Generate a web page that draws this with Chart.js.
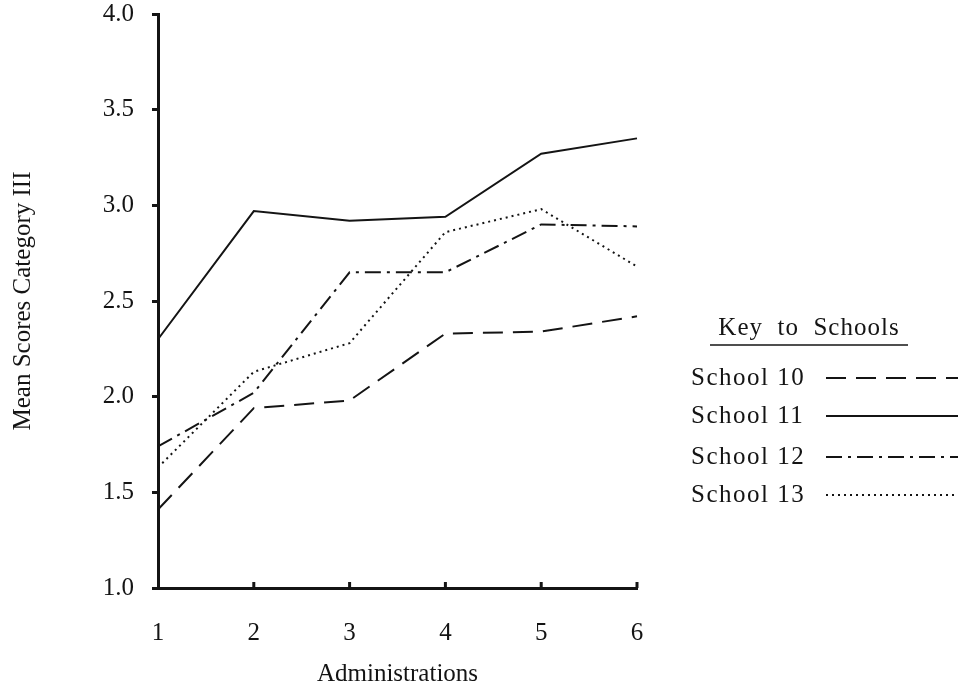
<!DOCTYPE html>
<html>
<head>
<meta charset="utf-8">
<script src="https://cdn.jsdelivr.net/npm/chart.js@4/dist/chart.umd.min.js"></script>
<style>
  html, body { margin: 0; padding: 0; background: #fff; overflow: hidden; }
  #wrap { width: 965px; height: 689px; overflow: hidden; }
  /* canvas is a little taller and pulled up so the plot top sits near the window edge */
  #chart { display: block; margin-top: -19px; }
</style>
</head>
<body>
<div id="wrap"><canvas id="chart" width="965" height="708"></canvas></div>
<script>
// administrations on the x axis
const administrations = ["1", "2", "3", "4", "5", "6"];

// mean scores, category III
const school10 = [1.41, 1.94, 1.98, 2.33, 2.34, 2.42];
const school11 = [2.30, 2.97, 2.92, 2.94, 3.27, 3.35];
const school12 = [1.74, 2.02, 2.65, 2.65, 2.90, 2.89];
const school13 = [1.63, 2.13, 2.28, 2.86, 2.98, 2.68];

const yTicks = [1.0, 1.5, 2.0, 2.5, 3.0, 3.5, 4.0];

const serif = "'Liberation Serif', 'DejaVu Serif', serif";
const ink = "#141414";
const shift = 19;

const keyPlugin = {
    id: "keyToSchools",
    afterDraw(chart) {
        const ctx = chart.ctx;
        const xs = chart.scales.x;
        const ys = chart.scales.y;
        ctx.save();

        // inward ticks on the x axis
        ctx.strokeStyle = ink;
        ctx.lineWidth = 3;
        administrations.forEach((a, i) => {
            if (i === 0) return;
            const px = xs.getPixelForValue(i);
            ctx.beginPath();
            ctx.moveTo(px, ys.bottom);
            ctx.lineTo(px, ys.bottom - 6);
            ctx.stroke();
        });

        // key
        ctx.fillStyle = ink;
        ctx.font = "25px " + serif;
        ctx.textBaseline = "middle";
        ctx.textAlign = "center";
        ctx.letterSpacing = "1px";
        ctx.fillText("Key  to  Schools", 809, 328 + shift);
        ctx.lineWidth = 1.5;
        ctx.beginPath();
        ctx.moveTo(710, 345 + shift);
        ctx.lineTo(908, 345 + shift);
        ctx.stroke();

        ctx.textAlign = "left";
        ctx.letterSpacing = "1.5px";
        const rows = [378, 416, 457, 495];
        chart.data.datasets.forEach((ds, i) => {
            const y = rows[i] + shift;
            ctx.fillText(ds.label, 691, y);
            ctx.save();
            ctx.strokeStyle = ds.borderColor;
            ctx.lineWidth = 2;
            ctx.setLineDash(ds.borderDash || []);
            ctx.beginPath();
            ctx.moveTo(826, y);
            ctx.lineTo(958, y);
            ctx.stroke();
            ctx.restore();
        });

        ctx.restore();
    }
};

function lineSet(label, data, dash) {
    return {
        label: label,
        data: data,
        borderColor: ink,
        borderWidth: 2,
        borderDash: dash,
        pointRadius: 0,
        tension: 0,
        fill: false,
    };
}

new Chart(document.getElementById("chart"), {
    type: "line",
    data: {
        labels: administrations,
        datasets: [
            lineSet("School 10", school10, [20, 10]),
            lineSet("School 11", school11, []),
            lineSet("School 12", school12, [16, 6, 3, 6]),
            lineSet("School 13", school13, [2, 4]),
        ]
    },
    options: {
        responsive: false,
        animation: false,
        events: [],
        layout: {
            padding: { left: 0, right: 328, top: 0, bottom: 0 }
        },
        plugins: {
            legend: { display: false },
            tooltip: { enabled: false },
        },
        scales: {
            x: {
                offset: false,
                grid: { display: false, drawTicks: false },
                border: { color: ink, width: 3 },
                ticks: {
                    color: ink,
                    padding: 30,
                    font: { family: serif, size: 25 },
                    maxRotation: 0,
                },
                title: {
                    display: true,
                    text: "Administrations",
                    color: ink,
                    font: { family: serif, size: 25 },
                    padding: { top: 6, bottom: 0 },
                },
                afterFit(scale) { scale.height = 101; },
            },
            y: {
                min: 1.0,
                max: 4.0,
                afterBuildTicks(scale) {
                    scale.ticks = yTicks.map(v => ({ value: v }));
                },
                grid: { drawOnChartArea: false, tickLength: 6, color: ink, tickWidth: 3 },
                border: { color: ink, width: 3 },
                ticks: {
                    color: ink,
                    padding: 18,
                    font: { family: serif, size: 25 },
                    callback: v => Number(v).toFixed(1),
                },
                title: {
                    display: true,
                    text: "Mean Scores Category III",
                    color: ink,
                    font: { family: serif, size: 25 },
                    padding: { top: 8, bottom: 0 },
                },
                afterFit(scale) { scale.width = 158; },
            }
        }
    },
    plugins: [keyPlugin]
});
</script>
</body>
</html>
